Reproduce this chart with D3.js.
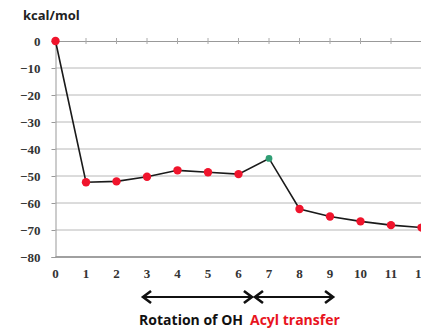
<!DOCTYPE html>
<html>
<head>
<meta charset="utf-8">
<script src="https://cdn.jsdelivr.net/npm/d3@7"></script>
<style>
  body { margin: 0; background: #fff; }
  svg { display: block; }
</style>
</head>
<body>
<svg id="chart" width="421" height="328"></svg>
<script>
var steps = [0, 1, 2, 3, 4, 5, 6, 7, 8, 9, 10, 11, 12],
    energy = [0, -52.3, -52, -50.3, -47.9, -48.6, -49.3, -43.5, -62.2, -65, -66.8, -68.2, -69.1],
    yTicks = [0, -10, -20, -30, -40, -50, -60, -70, -80],
    stepKind = ["start", "min", "min", "min", "min", "min", "min", "ts", "min", "min", "min", "min", "min"],
    phases = [
        { label: "Rotation of OH", from: 2.87, to: 6.44, color: "#111" },
        { label: "Acyl transfer", from: 6.54, to: 9.1, color: "#e8141e" }
    ]

var svg = d3.select("#chart")

var x = d3.scaleLinear().domain([0, 12]).range([55.5, 421.5]),
    y = d3.scaleLinear().domain([-80, 0]).range([257, 41])

// grid
svg.append("g").selectAll("line")
    .data(yTicks.filter(function(d) { return d < 0 && d > -80 }))
    .enter().append("line")
    .attr("x1", x(0)).attr("x2", 421)
    .attr("y1", function(d) { return y(d) }).attr("y2", function(d) { return y(d) })
    .attr("stroke", "#b8b8b8").attr("stroke-width", 1)

// bottom border
svg.append("line")
    .attr("x1", x(0)).attr("x2", 421)
    .attr("y1", y(-80)).attr("y2", y(-80))
    .attr("stroke", "#808080").attr("stroke-width", 1.5)

// value axis
var yAxis = d3.axisLeft(y).tickValues(yTicks).tickSize(4).tickPadding(11)
var ya = svg.append("g").attr("transform", "translate(" + x(0) + ",0)").call(yAxis)
ya.select(".domain").attr("stroke", "#999")
ya.selectAll(".tick line").attr("stroke", "#999")
ya.selectAll("text")
    .attr("font-family", "Liberation Serif").attr("font-weight", "bold")
    .attr("font-size", 13).attr("fill", "#333")

// category axis crossing at 0
var xAxis = d3.axisBottom(x).tickValues(steps).tickSize(0).tickFormat("")
var xa = svg.append("g").attr("transform", "translate(0," + y(0) + ")").call(xAxis)
xa.select(".domain").attr("stroke", "#999")
svg.append("g").selectAll("line")
    .data(steps.slice(1))
    .enter().append("line")
    .attr("x1", function(d) { return x(d) }).attr("x2", function(d) { return x(d) })
    .attr("y1", y(0) - 3).attr("y2", y(0) + 3)
    .attr("stroke", "#aaa")

// category labels along bottom
svg.append("g").selectAll("text")
    .data(steps)
    .enter().append("text")
    .attr("x", function(d) { return x(d) })
    .attr("y", 278)
    .attr("text-anchor", "middle")
    .attr("font-family", "Liberation Serif").attr("font-weight", "bold")
    .attr("font-size", 13).attr("fill", "#333")
    .text(function(d) { return d })

// line
var line = d3.line()
    .x(function(d, i) { return x(steps[i]) })
    .y(function(d) { return y(d) })

svg.append("path")
    .datum(energy)
    .attr("d", line)
    .attr("fill", "none")
    .attr("stroke", "#1a1a1a")
    .attr("stroke-width", 1.6)

svg.append("g").selectAll("circle")
    .data(energy)
    .enter().append("circle")
    .attr("cx", function(d, i) { return x(steps[i]) })
    .attr("cy", function(d) { return y(d) })
    .attr("r", function(d, i) { return stepKind[i] == "ts" ? 3.4 : 4.2 })
    .attr("fill", function(d, i) { return stepKind[i] == "ts" ? "#2f9e74" : "#f0142c" })

// unit label
svg.append("text")
    .attr("x", 23).attr("y", 20)
    .attr("font-family", "Open Sans").attr("font-weight", "bold")
    .attr("font-size", 13).attr("fill", "#222")
    .text("kcal/mol")

// phase arrows
var ay = 297
var arr = svg.append("g").selectAll("g").data(phases).enter().append("g")
arr.append("line")
    .attr("x1", function(d) { return x(d.from) + 1 }).attr("x2", function(d) { return x(d.to) - 1 })
    .attr("y1", ay).attr("y2", ay)
    .attr("stroke", "#111").attr("stroke-width", 2)
arr.append("path")
    .attr("d", function(d) {
        var a = x(d.from), b = x(d.to)
        return "M" + (a + 8) + "," + (ay - 6) + "L" + a + "," + ay + "L" + (a + 8) + "," + (ay + 6) +
            "M" + (b - 8) + "," + (ay - 6) + "L" + b + "," + ay + "L" + (b - 8) + "," + (ay + 6)
    })
    .attr("fill", "none").attr("stroke", "#111").attr("stroke-width", 2.6)
    .attr("stroke-linejoin", "miter")

svg.append("text")
    .attr("x", 243).attr("y", 325)
    .attr("text-anchor", "end")
    .attr("font-family", "Open Sans").attr("font-weight", "bold")
    .attr("font-size", 14).attr("fill", "#111")
    .text(phases[0].label)
svg.append("text")
    .attr("x", 250).attr("y", 325)
    .attr("font-family", "Open Sans").attr("font-weight", "bold")
    .attr("font-size", 14).attr("fill", phases[1].color)
    .text(phases[1].label)
</script>
</body>
</html>
